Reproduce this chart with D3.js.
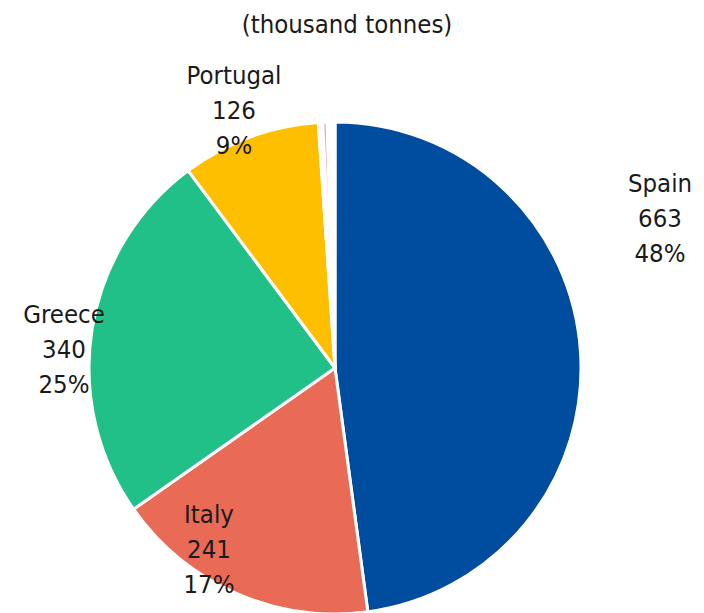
<!DOCTYPE html>
<html>
<head>
<meta charset="utf-8">
<script src="https://cdn.jsdelivr.net/npm/d3@7"></script>
<style>
  html, body { margin: 0; padding: 0; background: #fff; }
  svg text { font-family: "DejaVu Sans Condensed", "DejaVu Sans", sans-serif; fill: #1a1a1a; }
</style>
</head>
<body>
<svg id="chart" width="704" height="613"></svg>
<script>
// Data (thousand tonnes)
const categories = ["Spain", "Italy", "Greece", "Portugal", "Other A", "Other B", "Other C"];
const values = [663, 241, 340, 126, 4, 4, 7];
const shownLabels = ["Spain", "Italy", "Greece", "Portugal"];
const colors = ["#004c9f", "#e96b55", "#22c089", "#fdbf00", "#ffffff", "#f2a3a3", "#ffffff"];
const subtitle = "(thousand tonnes)";

const svg = d3.select("#chart");
const cx = 335, cy = 368, r = 246;

const total = d3.sum(values);
const data = categories.map((c, i) => ({ name: c, value: values[i], color: colors[i] }));

const pie = d3.pie().sort(null).value(d => d.value);
const arc = d3.arc().innerRadius(0).outerRadius(r);

const g = svg.append("g").attr("transform", `translate(${cx},${cy})`);
g.selectAll("path")
  .data(pie(data))
  .join("path")
  .attr("d", arc)
  .attr("fill", d => d.data.color)
  .attr("stroke", "#ffffff")
  .attr("stroke-width", 3)
  .attr("stroke-linejoin", "round");

svg.append("text")
  .attr("x", 347).attr("y", 33)
  .attr("text-anchor", "middle")
  .attr("font-size", 25.5)
  .text(subtitle);

// label anchor positions (centre x, first baseline)
const labelPos = {
  "Spain": [660, 192],
  "Italy": [209, 523],
  "Greece": [64, 323],
  "Portugal": [234, 84]
};
const fmt = d3.format(".0%");
data.filter(d => shownLabels.includes(d.name)).forEach(d => {
  const [x, y] = labelPos[d.name];
  const t = svg.append("text")
    .attr("text-anchor", "middle")
    .attr("font-size", 25.5);
  [d.name, String(d.value), fmt(d.value / total)].forEach((s, i) => {
    t.append("tspan").attr("x", x).attr("y", y + i * 35).text(s);
  });
});
</script>
</body>
</html>
